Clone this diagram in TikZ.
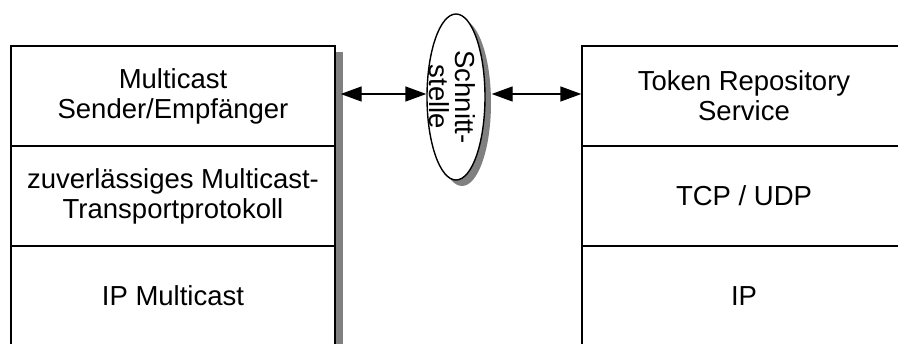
\documentclass[tikz,border=0pt]{standalone}
\usepackage{fontspec}
\setmainfont{Liberation Sans}
\usetikzlibrary{shapes.geometric,arrows.meta,backgrounds}
\begin{document}
\begin{tikzpicture}[x=1pt,y=-1pt,
  every node/.style={font=\fontsize{27.5}{30}\selectfont},
  layer/.style={draw, fill=white, line width=1.4pt, minimum width=324pt,
    minimum height=100pt, align=center, inner sep=0pt},
  shadowfill/.style={fill=black!50, draw=none},
  biarrow/.style={line width=1.4pt,
    {Triangle[length=21pt,width=15pt]}-{Triangle[length=21pt,width=15pt]}},
  iface/.style={ellipse, draw, fill=white, line width=1.4pt,
    minimum width=58pt, minimum height=166pt, inner sep=0pt}
]
\useasboundingbox (0,0) rectangle (898,344);

% left protocol stack
\node[layer] (lt) at (173,96)  {Multicast\\Sender/Empfänger};
\node[layer] (lm) at (173,196) {zuverlässiges Multicast-\\Transportprotokoll};
\node[layer] (lb) at (173,296) {IP Multicast};

% right protocol stack
\node[layer] (rt) at (744,96)  {Token Repository\\Service};
\node[layer] (rm) at (744,196) {TCP / UDP};
\node[layer] (rb) at (744,296) {IP};

% interface ellipse
\node[iface] (ifc) at (456,97) {};
\node[rotate=-90, align=center, font=\fontsize{27.5}{26}\selectfont]
  (ifctext) at ([xshift=-4pt]ifc.center) {Schnitt-\\stelle};

% drop shadows
\begin{scope}[on background layer]
  \fill[shadowfill] ([shift={(7,7)}]lt.north west) rectangle ([shift={(7,7)}]lb.south east);
  \node[iface, shadowfill] (ifcshadow) at ([shift={(6,6)}]ifc.center) {};
\end{scope}

% connectors at the level of the top layers
\coordinate (lev) at (0,94);
\draw[biarrow] ([xshift=5pt]lt.east |- lev) -- (ifc.west |- lev);
\draw[biarrow] ([xshift=6pt]ifc.east |- lev) -- (rt.west |- lev);
\end{tikzpicture}
\end{document}
